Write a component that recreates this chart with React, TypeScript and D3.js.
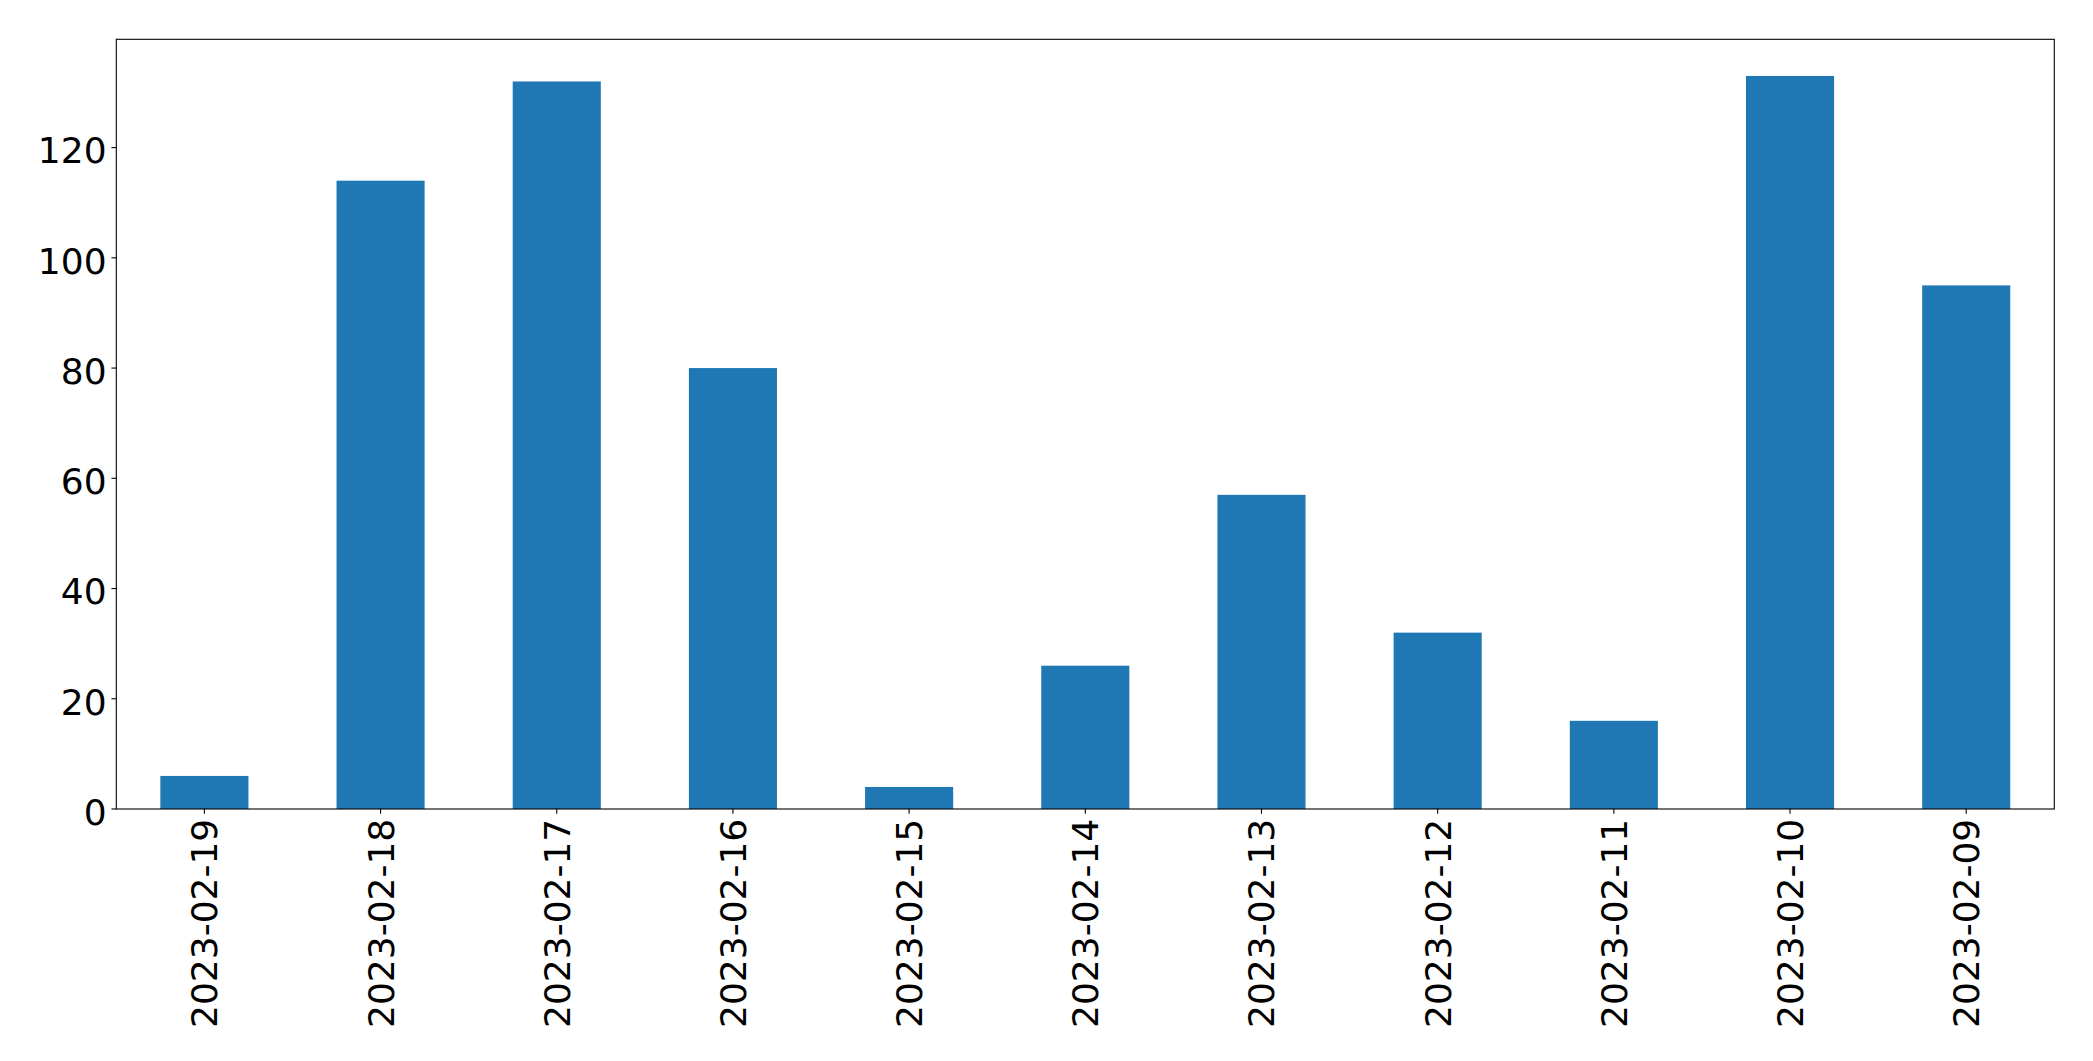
import React from "react";
import * as d3 from "d3";

const categories = [
  "2023-02-19", "2023-02-18", "2023-02-17", "2023-02-16", "2023-02-15", "2023-02-14",
  "2023-02-13", "2023-02-12", "2023-02-11", "2023-02-10", "2023-02-09",
];
const values = [6, 114, 132, 80, 4, 26, 57, 32, 16, 133, 95];
const yTicks = [0, 20, 40, 60, 80, 100, 120];

const W = 2093;
const H = 1061;
const M = { left: 116.3, right: 2054.3, top: 39.3, bottom: 809 };
const FONT = "DejaVu Sans, sans-serif";
const FS = 36;
const TICK = 4.86;
const PAD = 4.86;
const COLOR = "#1f77b4";

export default function App() {
  const n = categories.length;
  const x = d3.scaleLinear().domain([-0.5, n - 0.5]).range([M.left, M.right]);
  const yMax = (d3.max(values) ?? 0) * 1.05;
  const y = d3.scaleLinear().domain([0, yMax]).range([M.bottom, M.top]);
  const barW = x(0.5) - x(0);

  return (
    <svg
      width={W}
      height={H}
      style={{ position: "absolute", left: 0, top: 0, background: "#fff" }}
      fontFamily={FONT}
    >
      <rect x={0} y={0} width={W} height={H} fill="#fff" />
      {values.map((v, i) => (
        <rect
          key={categories[i]}
          x={x(i) - barW / 2}
          y={y(v)}
          width={barW}
          height={y(0) - y(v)}
          fill={COLOR}
        />
      ))}
      <rect
        x={M.left}
        y={M.top}
        width={M.right - M.left}
        height={M.bottom - M.top}
        fill="none"
        stroke="#000"
        strokeWidth={1.1}
      />
      {yTicks.map((t) => (
        <g key={t}>
          <line x1={M.left - TICK} x2={M.left} y1={y(t)} y2={y(t)} stroke="#000" strokeWidth={1.1} />
          <text
            x={M.left - TICK - PAD}
            y={y(t)}
            dy="0.44em"
            textAnchor="end"
            fontSize={FS}
            fill="#000"
          >
            {t}
          </text>
        </g>
      ))}
      {categories.map((c, i) => (
        <g key={c}>
          <line x1={x(i)} x2={x(i)} y1={M.bottom} y2={M.bottom + TICK} stroke="#000" strokeWidth={1.1} />
          <text
            transform={`translate(${x(i)},${M.bottom + TICK + PAD}) rotate(-90)`}
            dy="0.36em"
            textAnchor="end"
            fontSize={FS}
            fill="#000"
          >
            {c}
          </text>
        </g>
      ))}
    </svg>
  );
}
